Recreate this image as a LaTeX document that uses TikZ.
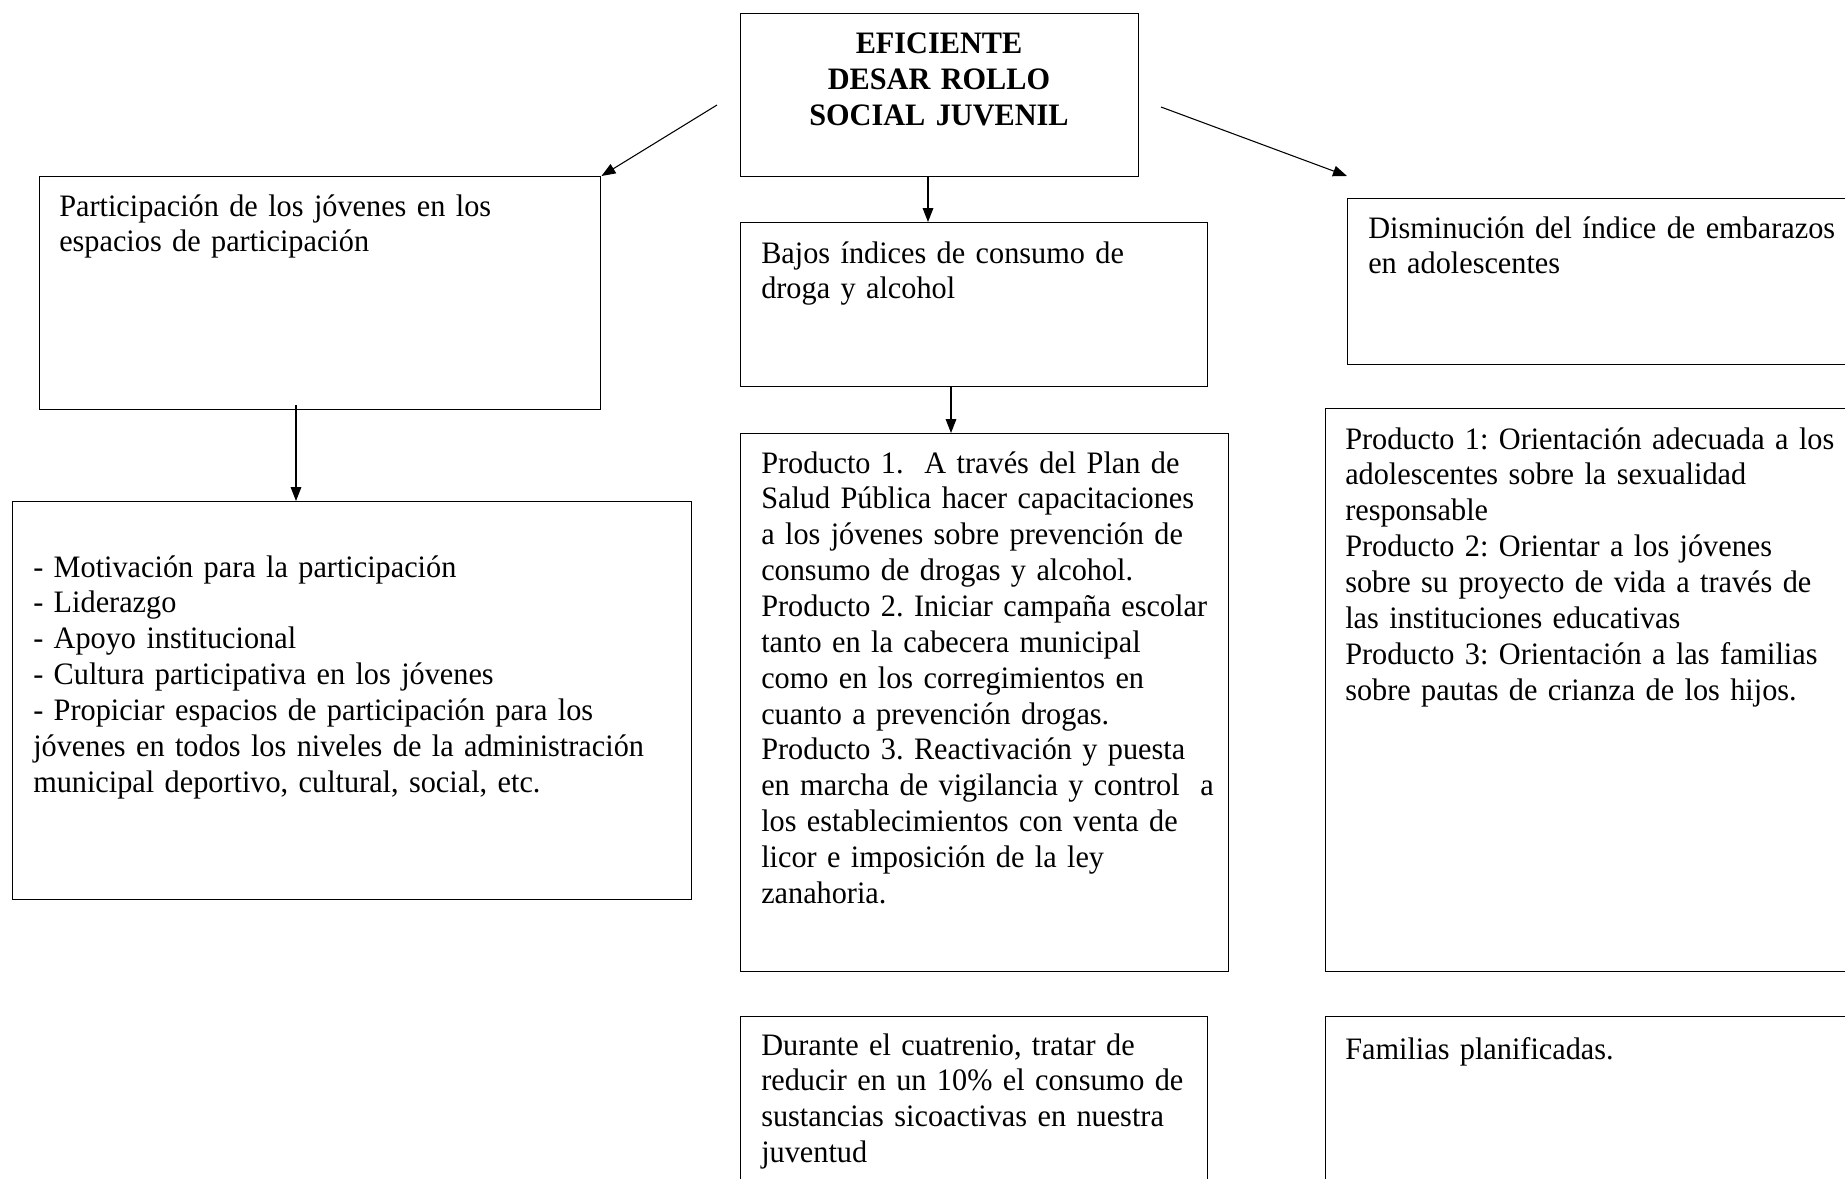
\documentclass[tikz,border=0pt]{standalone}
\usepackage{fontspec}
\setmainfont{Liberation Serif}[FakeStretch=0.97]
\usetikzlibrary{arrows.meta,calc}
\begin{document}
\frenchspacing
\begin{tikzpicture}[x=0.75pt,y=-0.75pt,
  box/.style={draw, line width=1.1pt, anchor=north west, inner sep=0pt, rectangle},
  txt/.style={anchor=base west, inner sep=0pt, text width=560pt, align=left,
    font=\fontsize{23.4}{26.9}\selectfont},
  ttl/.style={anchor=base, inner sep=0pt, text width=298pt, align=center,
    font=\fontsize{23.4}{27.2}\selectfont\bfseries},
  arr/.style={line width=0.8pt, -{Triangle[length=10.5pt,width=8pt]}}]
\clip (0,0) rectangle (1845,1178);
\fill[white] (0,0) rectangle (1845,1178);

% boxes
\node[box, minimum width=298.5pt, minimum height=122.25pt] (top) at (740,13) {};
\node[box, minimum width=420.75pt, minimum height=174.75pt] (b1) at (39,176) {};
\node[box, minimum width=509.25pt, minimum height=298.5pt] (b2) at (12,501) {};
\node[box, minimum width=350.25pt, minimum height=123pt] (m1) at (740,222) {};
\node[box, minimum width=366pt, minimum height=403.5pt] (m2) at (740,433) {};
\node[box, minimum width=350.25pt, minimum height=150pt] (m3) at (740,1016) {};
\node[box, minimum width=397.5pt, minimum height=124.5pt] (r1) at (1347,198) {};
\node[box, minimum width=412.5pt, minimum height=422.25pt] (r2) at (1325,408) {};
\node[box, minimum width=412.5pt, minimum height=150pt] (r3) at (1325,1016) {};

% texts
\node[ttl] (topt) at (939,53) {EFICIENTE\\DESAR ROLLO\\SOCIAL JUVENIL};
\node[txt] (b1t) at (59,216) {Participación de los jóvenes en los\\espacios de participación};
\node[txt] (b2t) at (33,577) {- Motivación para la participación\\- Liderazgo\\- Apoyo institucional\\- Cultura participativa en los jóvenes\\- Propiciar espacios de participación para los\\jóvenes en todos los niveles de la administración\\municipal deportivo, cultural, social, etc.};
\node[txt] (m1t) at (761,263) {Bajos índices de consumo de\\droga y alcohol};
\node[txt] (m2t) at (761,473) {Producto 1.~ A través del Plan de\\Salud Pública hacer capacitaciones\\a los jóvenes sobre prevención de\\consumo de drogas y alcohol.\\Producto 2. Iniciar campaña escolar\\tanto en la cabecera municipal\\como en los corregimientos en\\cuanto a prevención drogas.\\Producto 3. Reactivación y puesta\\en marcha de vigilancia y control~ a\\los establecimientos con venta de\\licor e imposición de la ley\\zanahoria.};
\node[txt] (m3t) at (761,1055) {Durante el cuatrenio, tratar de\\reducir en un 10\% el consumo de\\sustancias sicoactivas en nuestra\\juventud};
\node[txt] (r1t) at (1368,238) {Disminución del índice de embarazos\\en adolescentes};
\node[txt] (r2t) at (1345,449) {Producto 1: Orientación adecuada a los\\adolescentes sobre la sexualidad\\responsable\\Producto 2: Orientar a los jóvenes\\sobre su proyecto de vida a través de\\las instituciones educativas\\Producto 3: Orientación a las familias\\sobre pautas de crianza de los hijos.};
\node[txt] (r3t) at (1345,1059) {Familias planificadas.};

% connectors
\coordinate (lstart) at (717,105);
\coordinate (rstart) at (1161,107);
\coordinate (rend) at (1347,176);
\coordinate (xa) at (928,0);
\coordinate (xb) at (296,0);
\coordinate (xc) at (951,0);
\draw[arr] (lstart) -- (b1.north east);
\draw[arr] (rstart) -- (rend);
\draw[arr] (top.south -| xa) -- (m1.north -| xa);
\draw[arr] ($(b1.south -| xb)+(0,-5)$) -- (b2.north -| xb);
\draw[arr] (m1.south -| xc) -- (m2.north -| xc);
\end{tikzpicture}
\end{document}
